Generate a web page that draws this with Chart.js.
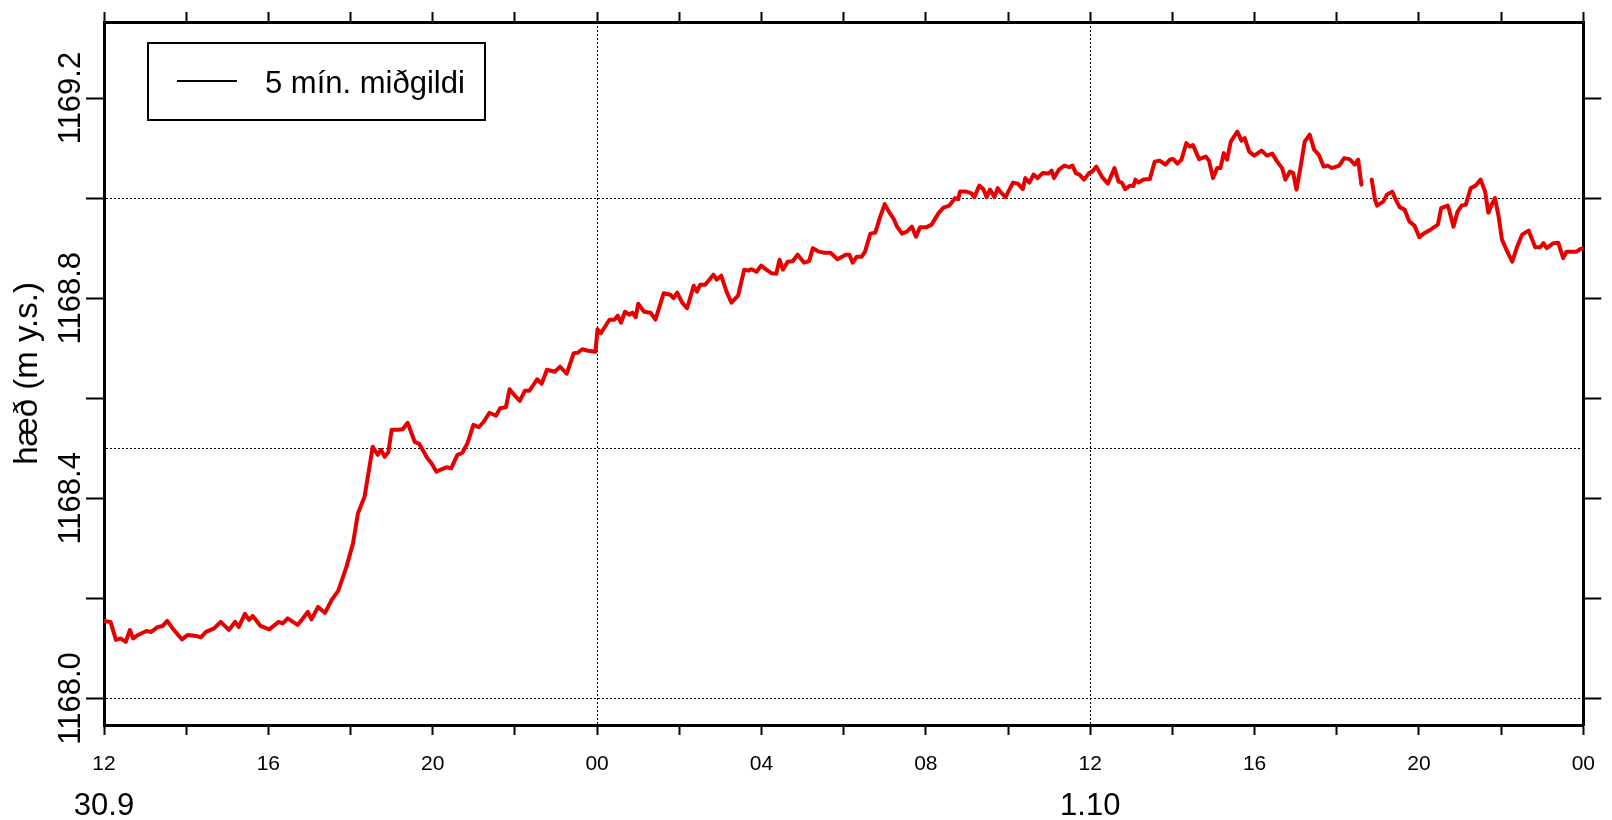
<!DOCTYPE html>
<html>
<head>
<meta charset="utf-8">
<title>hæð</title>
<script src="https://cdn.jsdelivr.net/npm/chart.js@4.4.1/dist/chart.umd.min.js"></script>
<style>
  html, body { margin: 0; padding: 0; background: #fff; }
  canvas { display: block; }
</style>
</head>
<body>
<canvas id="levelChart" width="1612" height="820"></canvas>
<script>
// time in hours from 00:00 on 30.9, 5 min median height (m y.s.), null = gap
const hours = [
  12.00, 12.16, 12.29, 12.40, 12.53, 12.63, 12.71, 12.83, 13.03, 13.15,
  13.31, 13.43, 13.54, 13.67, 13.90, 14.04, 14.24, 14.36, 14.48, 14.68,
  14.84, 15.04, 15.19, 15.28, 15.43, 15.53, 15.62, 15.81, 16.02, 16.25,
  16.35, 16.47, 16.71, 16.81, 16.96, 17.05, 17.21, 17.38, 17.54, 17.70,
  17.90, 18.06, 18.18, 18.34, 18.46, 18.54, 18.66, 18.74, 18.83, 18.92,
  19.00, 19.15, 19.27, 19.39, 19.56, 19.67, 19.87, 19.97, 20.09, 20.21,
  20.33, 20.45, 20.60, 20.72, 20.84, 20.99, 21.12, 21.24, 21.38, 21.54,
  21.64, 21.78, 21.87, 21.98, 22.12, 22.24, 22.35, 22.45, 22.54, 22.65,
  22.78, 22.97, 23.10, 23.26, 23.43, 23.53, 23.64, 23.78, 23.96, 24.01,
  24.09, 24.30, 24.42, 24.50, 24.58, 24.68, 24.78, 24.86, 24.94, 25.00,
  25.14, 25.30, 25.42, 25.62, 25.78, 25.86, 25.95, 26.07, 26.19, 26.35,
  26.43, 26.51, 26.63, 26.83, 26.91, 27.02, 27.15, 27.27, 27.43, 27.58,
  27.68, 27.76, 27.88, 27.99, 28.12, 28.24, 28.36, 28.44, 28.52, 28.64,
  28.76, 28.88, 29.04, 29.16, 29.25, 29.40, 29.52, 29.68, 29.85, 30.05,
  30.14, 30.22, 30.32, 30.44, 30.52, 30.65, 30.77, 30.89, 31.00, 31.10,
  31.22, 31.30, 31.42, 31.54, 31.66, 31.76, 31.86, 32.02, 32.14, 32.31,
  32.43, 32.57, 32.71, 32.79, 32.83, 32.98, 33.10, 33.18, 33.30, 33.40,
  33.48, 33.56, 33.67, 33.75, 33.83, 33.94, 34.12, 34.24, 34.36, 34.42,
  34.52, 34.62, 34.72, 34.84, 34.98, 35.06, 35.12, 35.24, 35.37, 35.49,
  35.57, 35.65, 35.74, 35.85, 35.97, 36.05, 36.15, 36.29, 36.43, 36.59,
  36.69, 36.77, 36.85, 36.97, 37.05, 37.10, 37.18, 37.29, 37.45, 37.57,
  37.69, 37.83, 37.94, 38.02, 38.12, 38.22, 38.34, 38.42, 38.50, 38.65,
  38.81, 38.89, 38.99, 39.09, 39.17, 39.25, 39.33, 39.42, 39.58, 39.68,
  39.76, 39.87, 39.99, 40.17, 40.30, 40.43, 40.55, 40.67, 40.75, 40.86,
  40.94, 41.02, 41.12, 41.22, 41.34, 41.45, 41.56, 41.68, 41.78, 41.88,
  42.06, 42.18, 42.31, 42.44, 42.52, 42.60, 42.72, 42.85, 42.93, 42.98,
  43.13, 43.22, 43.35, 43.43, 43.53, 43.65, 43.77, 43.89, 44.01, 44.13,
  44.30, 44.46, 44.54, 44.70, 44.74, 44.84, 44.94, 45.04, 45.14, 45.26,
  45.38, 45.50, 45.61, 45.69, 45.77, 45.85, 45.94, 46.02, 46.15, 46.27,
  46.39, 46.51, 46.67, 46.83, 46.95, 47.03, 47.11, 47.27, 47.39, 47.51,
  47.59, 47.71, 47.84, 47.92, 48.00
];

const heights = [
  1168.155, 1168.153, 1168.117, 1168.120, 1168.113, 1168.137, 1168.120, 1168.127, 1168.135, 1168.133,
  1168.143, 1168.145, 1168.155, 1168.140, 1168.118, 1168.127, 1168.125, 1168.122, 1168.133, 1168.140,
  1168.153, 1168.137, 1168.153, 1168.143, 1168.169, 1168.157, 1168.165, 1168.145, 1168.138, 1168.153,
  1168.150, 1168.160, 1168.147, 1168.157, 1168.173, 1168.158, 1168.183, 1168.171, 1168.197, 1168.215,
  1168.263, 1168.310, 1168.370, 1168.403, 1168.463, 1168.503, 1168.487, 1168.497, 1168.483, 1168.492,
  1168.537, 1168.537, 1168.538, 1168.551, 1168.513, 1168.509, 1168.480, 1168.470, 1168.453, 1168.458,
  1168.462, 1168.460, 1168.487, 1168.491, 1168.509, 1168.547, 1168.542, 1168.553, 1168.571, 1168.565,
  1168.580, 1168.582, 1168.618, 1168.607, 1168.595, 1168.615, 1168.615, 1168.627, 1168.638, 1168.629,
  1168.657, 1168.653, 1168.663, 1168.649, 1168.690, 1168.691, 1168.698, 1168.695, 1168.693, 1168.738,
  1168.730, 1168.757, 1168.757, 1168.765, 1168.751, 1168.773, 1168.767, 1168.771, 1168.762, 1168.789,
  1168.773, 1168.771, 1168.757, 1168.810, 1168.807, 1168.800, 1168.811, 1168.791, 1168.780, 1168.825,
  1168.813, 1168.827, 1168.827, 1168.847, 1168.837, 1168.845, 1168.813, 1168.791, 1168.805, 1168.857,
  1168.855, 1168.858, 1168.853, 1168.865, 1168.857, 1168.850, 1168.849, 1168.877, 1168.857, 1168.873,
  1168.874, 1168.887, 1168.871, 1168.874, 1168.900, 1168.893, 1168.891, 1168.891, 1168.878, 1168.887,
  1168.887, 1168.871, 1168.883, 1168.883, 1168.893, 1168.929, 1168.931, 1168.963, 1168.988, 1168.973,
  1168.958, 1168.943, 1168.929, 1168.933, 1168.943, 1168.923, 1168.942, 1168.942, 1168.947, 1168.970,
  1168.981, 1168.985, 1169.000, 1168.998, 1169.013, 1169.013, 1169.010, 1169.002, 1169.025, 1169.018,
  1169.002, 1169.017, 1169.002, 1169.020, 1169.011, 1169.002, 1169.031, 1169.029, 1169.018, 1169.040,
  1169.031, 1169.047, 1169.040, 1169.050, 1169.049, 1169.055, 1169.040, 1169.057, 1169.065, 1169.062,
  1169.065, 1169.050, 1169.047, 1169.037, 1169.050, 1169.053, 1169.063, 1169.042, 1169.029, 1169.060,
  1169.033, 1169.031, 1169.018, 1169.025, 1169.024, 1169.037, 1169.031, 1169.037, 1169.038, 1169.073,
  1169.075, 1169.067, 1169.077, 1169.078, 1169.069, 1169.077, 1169.110, 1169.103, 1169.106, 1169.078,
  1169.083, 1169.075, 1169.040, 1169.060, 1169.060, 1169.090, 1169.077, 1169.113, 1169.133, 1169.115,
  1169.120, 1169.093, 1169.085, 1169.095, 1169.085, 1169.089, 1169.073, 1169.060, 1169.037, 1169.053,
  1169.050, 1169.017, 1169.063, 1169.113, 1169.127, 1169.097, 1169.087, 1169.063, 1169.065, 1169.060,
  1169.065, 1169.080, 1169.078, 1169.067, 1169.077, 1169.027, null,     1169.037, 1168.997, 1168.985,
  1168.993, 1169.007, 1169.013, 1168.998, 1168.982, 1168.977, 1168.953, 1168.945, 1168.922, 1168.930,
  1168.938, 1168.947, 1168.980, 1168.985, 1168.975, 1168.943, 1168.973, 1168.985, 1168.987, 1169.020,
  1169.025, 1169.037, 1169.013, 1168.971, 1168.987, 1169.000, 1168.963, 1168.917, 1168.893, 1168.873,
  1168.903, 1168.927, 1168.935, 1168.902, 1168.902, 1168.910, 1168.900, 1168.910, 1168.911, 1168.880,
  1168.893, 1168.893, 1168.893, 1168.898, 1168.900
];

const xTickLabels = ['12', '16', '20', '00', '04', '08', '12', '16', '20', '00'];
const yTickLabels = [1168.0, 1168.4, 1168.8, 1169.2];
const dayLabels = ['30.9', '1.10'];
const dayLabelHours = [12, 36];
const seriesName = '5 mín. miðgildi';
const yTitle = 'hæð (m y.s.)';

const FONT = '"Liberation Sans", Arial, Helvetica, sans-serif';
const RED = '#e60000';

const isMult = (v, step) => Math.abs(v / step - Math.round(v / step)) < 1e-6;

// rotated y labels, day labels under the hour axis, boxed legend
const decorPlugin = {
  id: 'decor',
  afterDraw(chart) {
    const ctx = chart.ctx;
    const area = chart.chartArea;
    const xs = chart.scales.x;
    const ys = chart.scales.y;
    ctx.save();
    ctx.fillStyle = '#000';
    ctx.font = '31px ' + FONT;
    ctx.textAlign = 'center';
    ctx.textBaseline = 'alphabetic';

    yTickLabels.forEach(v => {
      ctx.save();
      ctx.translate(area.left - 24, ys.getPixelForValue(v));
      ctx.rotate(-Math.PI / 2);
      ctx.fillText(v.toFixed(1), 0, 0);
      ctx.restore();
    });

    dayLabels.forEach((d, i) => {
      ctx.fillText(d, xs.getPixelForValue(dayLabelHours[i]), 815);
    });

    // legend box
    const lx = area.left + 44, ly = area.top + 21;
    ctx.fillStyle = '#fff';
    ctx.fillRect(lx, ly, 337, 77);
    ctx.strokeStyle = '#000';
    ctx.lineWidth = 2;
    ctx.strokeRect(lx, ly, 337, 77);
    ctx.beginPath();
    ctx.moveTo(lx + 29, ly + 38);
    ctx.lineTo(lx + 89, ly + 38);
    ctx.stroke();
    ctx.fillStyle = '#000';
    ctx.textAlign = 'left';
    ctx.fillText(seriesName, lx + 117, ly + 50);
    ctx.restore();
  }
};

const points = hours.map((h, i) => ({ x: h, y: heights[i] }));

const levelChart = new Chart(document.getElementById('levelChart'), {
  type: 'line',
  data: {
    datasets: [{
      label: seriesName,
      data: points,
      borderColor: RED,
      borderWidth: 4,
      pointRadius: 0,
      tension: 0,
      spanGaps: false,
      borderJoinStyle: 'round',
      borderCapStyle: 'round'
    }]
  },
  options: {
    responsive: false,
    animation: false,
    events: [],
    layout: { padding: 0 },
    plugins: {
      legend: { display: false },
      tooltip: { enabled: false }
    },
    scales: {
      x: {
        type: 'linear',
        position: 'bottom',
        min: 12,
        max: 48,
        afterFit: s => { s.height = 95; },
        ticks: {
          stepSize: 2,
          autoSkip: false,
          maxRotation: 0,
          padding: 17,
          color: '#000',
          font: { family: FONT, size: 21 },
          callback: (v, i) => (i % 2 === 0 ? xTickLabels[i / 2] : '')
        },
        grid: {
          color: c => (c.tick && isMult(c.tick.value, 12) ? '#000' : 'rgba(0,0,0,0)'),
          lineWidth: 1,
          tickLength: 10,
          tickWidth: 2,
          tickColor: '#000'
        },
        border: { color: '#000', width: 3, dash: [2, 2] }
      },
      x2: {
        type: 'linear',
        position: 'top',
        min: 12,
        max: 48,
        afterFit: s => { s.height = 22; },
        ticks: { stepSize: 2, display: false },
        grid: { drawOnChartArea: false, tickLength: 10, tickWidth: 2, tickColor: '#000' },
        border: { color: '#000', width: 3 }
      },
      y: {
        type: 'linear',
        position: 'left',
        min: 1167.947,
        max: 1169.352,
        afterFit: s => { s.width = 104; },
        ticks: { stepSize: 0.1, includeBounds: false, display: false },
        grid: {
          color: c => (c.tick && isMult(c.tick.value, 0.5) ? '#000' : 'rgba(0,0,0,0)'),
          lineWidth: 1,
          tickLength: 18,
          tickWidth: 2,
          tickColor: c => (c.tick && isMult(c.tick.value, 0.2) ? '#000' : 'rgba(0,0,0,0)')
        },
        border: { color: '#000', width: 3, dash: [2, 2] },
        title: {
          display: true,
          text: yTitle,
          color: '#000',
          font: { family: FONT, size: 33 },
          padding: { top: 8, bottom: 0 }
        }
      },
      y2: {
        type: 'linear',
        position: 'right',
        min: 1167.947,
        max: 1169.352,
        afterFit: s => { s.width = 17; },
        ticks: { stepSize: 0.2, includeBounds: false, display: false },
        grid: { drawOnChartArea: false, tickLength: 18, tickWidth: 2, tickColor: '#000' },
        border: { color: '#000', width: 3 }
      }
    }
  },
  plugins: [decorPlugin]
});
</script>
</body>
</html>
